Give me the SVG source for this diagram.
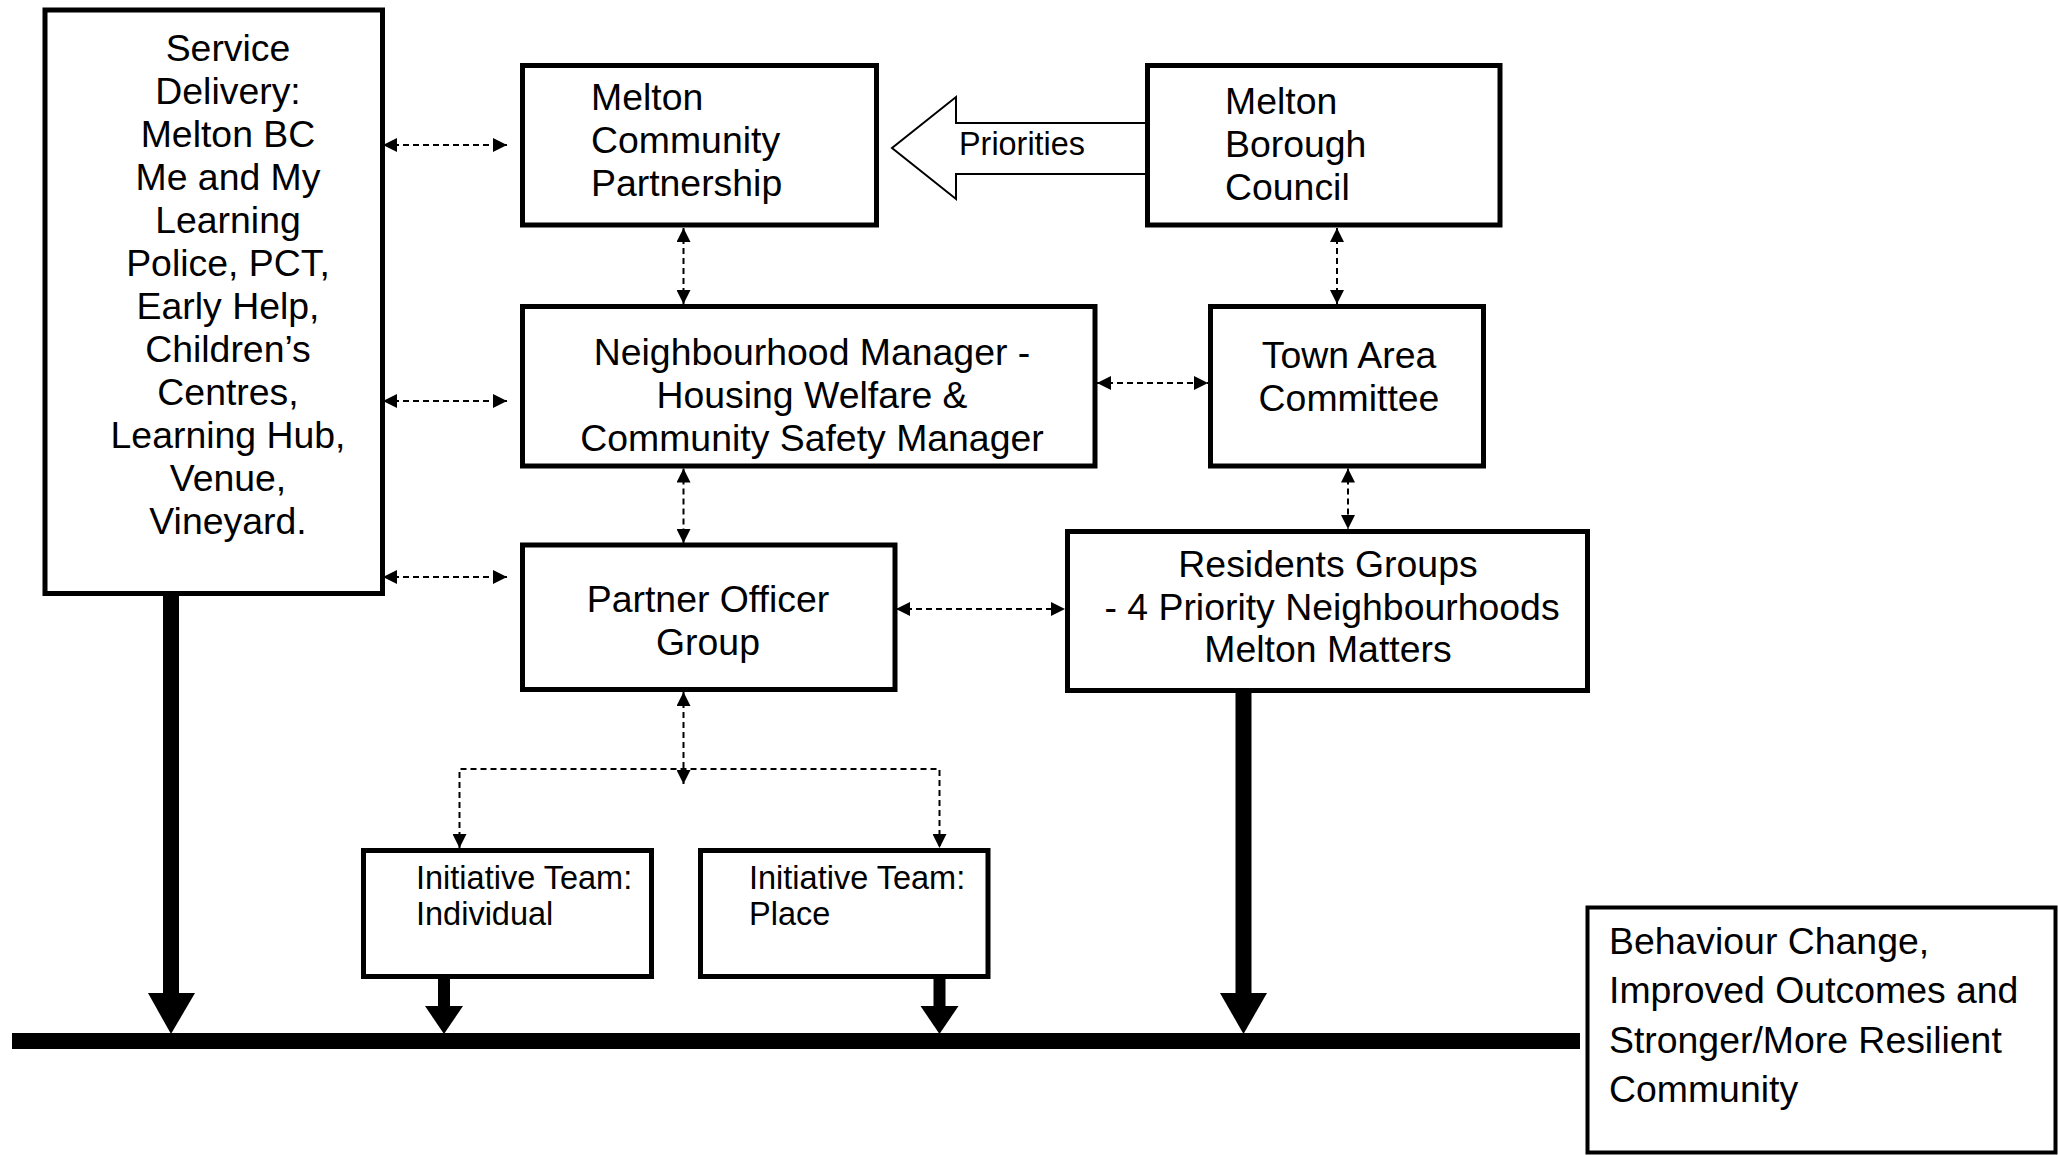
<svg xmlns="http://www.w3.org/2000/svg" width="2058" height="1155" viewBox="0 0 2058 1155">
<defs>
<style>
.box{fill:#fff;stroke:#000;stroke-width:5}
.thin{fill:#fff;stroke:#000;stroke-width:4}
.t{font-family:"Liberation Sans",Arial,sans-serif;font-size:37.4px;fill:#000}
.c{text-anchor:middle}
.s{font-size:32.5px}
.p{font-size:32.4px}
.dash{fill:none;stroke:#000;stroke-width:2;stroke-dasharray:6 4;marker-start:url(#ah);marker-end:url(#ah)}
.blk{fill:#000;stroke:none}
</style>
<marker id="ah" viewBox="0 0 14 14" refX="14" refY="7" markerWidth="14" markerHeight="14" markerUnits="userSpaceOnUse" orient="auto-start-reverse">
<path d="M0,0 L14,7 L0,14 z" fill="#000"/>
</marker>
</defs>
<rect width="2058" height="1155" fill="#fff"/>

<g id="connectors">
<line class="dash" x1="383" y1="145" x2="507" y2="145"/>
<line class="dash" x1="383" y1="401" x2="507" y2="401"/>
<line class="dash" x1="383" y1="577" x2="507" y2="577"/>
<line class="dash" x1="683.5" y1="228" x2="683.5" y2="304"/>
<line class="dash" x1="683.5" y1="468.5" x2="683.5" y2="543"/>
<line class="dash" x1="1337" y1="228" x2="1337" y2="304"/>
<line class="dash" x1="1097" y1="383" x2="1208" y2="383"/>
<line class="dash" x1="1348" y1="468.5" x2="1348" y2="529"/>
<line class="dash" x1="896" y1="609" x2="1065" y2="609"/>
<line class="dash" x1="683.5" y1="692" x2="683.5" y2="784"/>
<path class="dash" d="M459.5,848 V769 H939.5 V848"/>
<polygon points="1148,123 956,123 956,97 892,148 956,199 956,174 1148,174" fill="#fff" stroke="#000" stroke-width="2"/>
<text class="t p" x="959" y="155">Priorities</text>
<rect class="blk" x="163" y="595" width="16" height="400"/>
<polygon class="blk" points="148,993 195,993 171,1034"/>
<rect class="blk" x="1235.5" y="692" width="16" height="303"/>
<polygon class="blk" points="1220,993 1267,993 1243.5,1034"/>
<rect class="blk" x="438" y="978" width="12" height="30"/>
<polygon class="blk" points="425,1006 463,1006 444,1034"/>
<rect class="blk" x="933.5" y="978" width="12" height="30"/>
<polygon class="blk" points="920.5,1006 958.5,1006 939.5,1034"/>
<rect class="blk" x="12" y="1033" width="1568" height="16"/>
</g>

<g id="service-delivery">
<rect class="box" x="45" y="10" width="337.5" height="583.5"/>
<text class="t c"><tspan x="228" y="61">Service</tspan><tspan x="228" y="104">Delivery:</tspan><tspan x="228" y="147">Melton BC</tspan><tspan x="228" y="190">Me and My</tspan><tspan x="228" y="233">Learning</tspan><tspan x="228" y="276">Police, PCT,</tspan><tspan x="228" y="319">Early Help,</tspan><tspan x="228" y="362">Children’s</tspan><tspan x="228" y="405">Centres,</tspan><tspan x="228" y="448">Learning Hub,</tspan><tspan x="228" y="491">Venue,</tspan><tspan x="228" y="534">Vineyard.</tspan></text>
</g>

<g id="melton-community-partnership">
<rect class="box" x="522.5" y="65.5" width="354" height="159.5"/>
<text class="t"><tspan x="591" y="110">Melton</tspan><tspan x="591" y="153">Community</tspan><tspan x="591" y="196">Partnership</tspan></text>
</g>

<g id="melton-borough-council">
<rect class="box" x="1147.5" y="65.5" width="352.5" height="159.5"/>
<text class="t"><tspan x="1225" y="113.5">Melton</tspan><tspan x="1225" y="156.5">Borough</tspan><tspan x="1225" y="199.5">Council</tspan></text>
</g>

<g id="neighbourhood-manager">
<rect class="box" x="522.5" y="306.5" width="572.5" height="159.5"/>
<text class="t c"><tspan x="812" y="365">Neighbourhood Manager -</tspan><tspan x="812" y="408">Housing Welfare &amp;</tspan><tspan x="812" y="451">Community Safety Manager</tspan></text>
</g>

<g id="town-area-committee">
<rect class="box" x="1210.5" y="306.5" width="273" height="159.5"/>
<text class="t c"><tspan x="1349" y="368">Town Area</tspan><tspan x="1349" y="410.5">Committee</tspan></text>
</g>

<g id="partner-officer-group">
<rect class="box" x="522.5" y="545" width="372.5" height="144.5"/>
<text class="t c"><tspan x="708" y="612">Partner Officer</tspan><tspan x="708" y="655">Group</tspan></text>
</g>

<g id="residents-groups">
<rect class="box" x="1067.5" y="531.5" width="520" height="159"/>
<text class="t c"><tspan x="1328" y="577">Residents Groups</tspan><tspan x="1332" y="619.5">- 4 Priority Neighbourhoods</tspan><tspan x="1328" y="662">Melton Matters</tspan></text>
</g>

<g id="initiative-individual">
<rect class="box" x="363.5" y="850.5" width="288" height="126"/>
<text class="t s"><tspan x="416" y="889">Initiative Team:</tspan><tspan x="416" y="925">Individual</tspan></text>
</g>

<g id="initiative-place">
<rect class="box" x="700.5" y="850.5" width="287.5" height="126"/>
<text class="t s"><tspan x="749" y="889">Initiative Team:</tspan><tspan x="749" y="925">Place</tspan></text>
</g>

<g id="behaviour-change">
<rect class="thin" x="1587.5" y="907.5" width="468" height="245"/>
<text class="t"><tspan x="1609" y="954">Behaviour Change,</tspan><tspan x="1609" y="1003">Improved Outcomes and</tspan><tspan x="1609" y="1053">Stronger/More Resilient</tspan><tspan x="1609" y="1102">Community</tspan></text>
</g>
</svg>
